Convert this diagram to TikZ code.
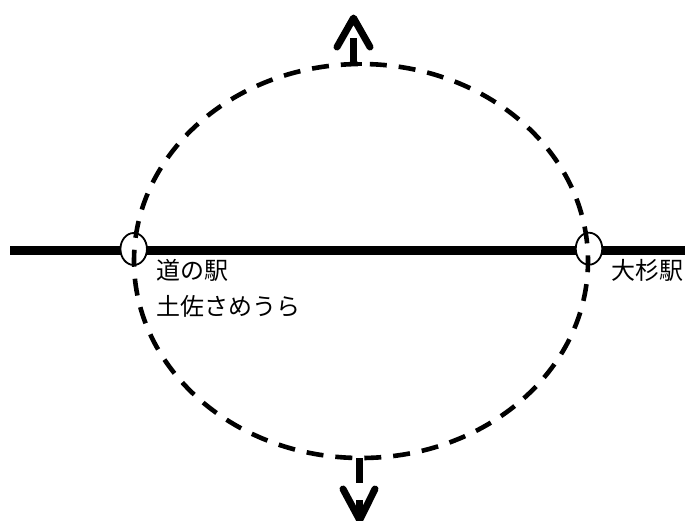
\documentclass[tikz,border=0pt]{standalone}
\usepackage{fontspec}
\newfontfamily\cjk{Noto Sans CJK JP}
\usetikzlibrary{shapes.geometric}
\tikzset{
  railline/.style={line width=9pt},
  station/.style={draw=black,fill=white,ellipse,line width=1.8pt,minimum width=26.5pt,minimum height=32pt,inner sep=0pt},
  route/.style={line width=4.6pt,dash pattern=on 17pt off 12pt,dash phase=5.8pt},
  stem/.style={line width=7pt},
  chevron/.style={line width=7pt,line cap=round,line join=round},
  lbl/.style={font=\cjk\fontsize{24}{28}\selectfont,inner sep=0pt,anchor=west,text=black}
}
\begin{document}
\begin{tikzpicture}[x=1pt,y=-1pt]
\useasboundingbox (0,0) rectangle (685,520);
\coordinate (w) at (10,250.5);
\coordinate (e) at (685,250.5);
\draw[railline] (w) -- (e);
\node[station] (michi) at (133.7,249) {};
\node[station] (osugi) at (589,248.7) {};
\draw[route] (361,261) ellipse [x radius=227,y radius=197];
\coordinate (ntop) at (353.5,64);
\coordinate (nup) at (353.5,38);
\coordinate (upl) at (337,47);
\coordinate (upa) at (353.5,18);
\coordinate (upr) at (370,47);
\coordinate (bl) at (345,64);
\coordinate (br) at (362,64);
\draw[stem] (ntop) -- (nup);
\draw[line width=4.6pt] (bl) -- (br);
\draw[chevron] (upl) -- (upa) -- (upr);
\coordinate (nbot) at (359.7,458);
\coordinate (ndown) at (359.7,483);
\coordinate (dnl) at (343,489);
\coordinate (dna) at (359.7,520);
\coordinate (dnr) at (375,489);
\coordinate (dne) at (359.7,500);
\draw[stem] (nbot) -- (ndown);
\draw[stem] (dne) -- (dna);
\begin{scope}
\clip (0,0) rectangle (685,520);
\draw[chevron] (dnl) -- (dna) -- (dnr);
\end{scope}
\node[lbl] (l1) at (156,270.5) {道の駅};
\node[lbl] (l2) at (156,306) {土佐さめうら};
\node[lbl] (l3) at (611,270.5) {大杉駅};
\end{tikzpicture}
\end{document}
